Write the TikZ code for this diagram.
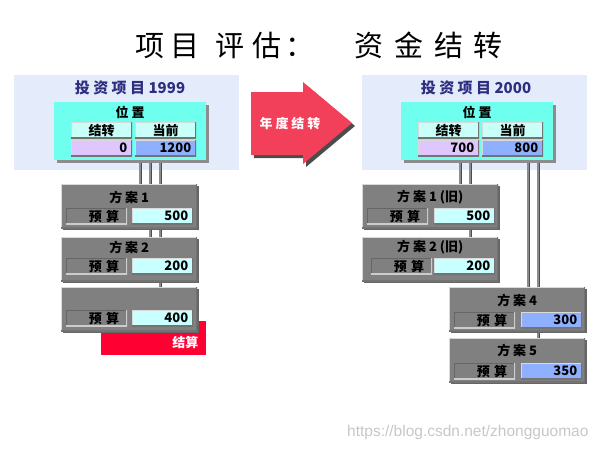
\documentclass[tikz,border=0pt]{standalone}
\usepackage{fontspec}
\setmainfont{Noto Sans CJK SC}
\newfontfamily\webfont{Liberation Sans}
\usepackage{tikz}
\usetikzlibrary{positioning,calc,shadows}
\definecolor{panelbg}{HTML}{E4EBFB}
\definecolor{navy}{HTML}{2E2E80}
\definecolor{poscyan}{HTML}{6EFFEE}
\definecolor{headcyan}{HTML}{C8FFF8}
\definecolor{lilac}{HTML}{E0C6FF}
\definecolor{cellblue}{HTML}{8FB0FF}
\definecolor{valcyan}{HTML}{C8FFFF}
\definecolor{boxgray}{HTML}{808080}
\definecolor{settlered}{HTML}{FF0033}
\definecolor{arrowred}{HTML}{F2405A}
\pgfdeclarelayer{panel}
\pgfdeclarelayer{pipes}
\pgfsetlayers{panel,pipes,main}
\tikzstyle{raised} = [path picture={
  \draw[line width=1.6pt, white!85!black] (path picture bounding box.south west) -- (path picture bounding box.north west) -- (path picture bounding box.north east);
  \draw[line width=1.6pt, black!55] (path picture bounding box.north east) -- (path picture bounding box.south east) -- (path picture bounding box.south west);}]
\tikzstyle{sunken} = [path picture={
  \draw[line width=1.6pt, black!60] (path picture bounding box.south west) -- (path picture bounding box.north west) -- (path picture bounding box.north east);
  \draw[line width=1.6pt, white!80!black] (path picture bounding box.north east) -- (path picture bounding box.south east) -- (path picture bounding box.south west);}]
\tikzstyle{panel} = [rectangle, fill=panelbg, inner sep=0pt, anchor=north west, minimum width=225pt, minimum height=95pt]
\tikzstyle{posbox} = [rectangle, fill=poscyan, inner sep=0pt, anchor=north west, minimum width=152pt, minimum height=58pt, drop shadow={shadow xshift=3pt, shadow yshift=-3pt, fill=black!45, opacity=1}]
\tikzstyle{plan} = [rectangle, fill=boxgray, inner sep=0pt, anchor=north west, minimum width=136pt, minimum height=44pt, raised, drop shadow={shadow xshift=1.5pt, shadow yshift=-1.5pt, fill=black!60, opacity=1}]
\tikzstyle{cell} = [rectangle, inner sep=0pt, inner xsep=5pt, anchor=north west, minimum width=61pt, minimum height=16pt, text width=51pt, align=right, raised]
\tikzstyle{headcell} = [cell, fill=headcyan, align=center]
\tikzstyle{labelcell} = [cell, fill=boxgray, sunken, inner xsep=8pt, text width=45pt]
\tikzstyle{pipe} = [draw=black!70, double=black!45, double distance=1.8pt, line width=0.8pt]

\begin{document}
\begin{tikzpicture}[x=1pt, y=-1pt, font=\bfseries\fontsize{13}{15}\selectfont]
  \useasboundingbox (0,0) rectangle (600,450);
  \node[font=\fontsize{29}{33}\selectfont] (title) at (319,45) {项\hspace{6pt}目\hspace{16pt}评\hspace{8pt}估\hspace{4pt}：\hspace{40pt}资\hspace{11pt}金\hspace{11pt}结\hspace{10pt}转};

  \begin{pgfonlayer}{panel}
    \node[panel] (bg1) at (14,75) {};
    \node[panel] (bg2) at (362,75) {};
  \end{pgfonlayer}

  % project 1999
  \node[font=\bfseries\fontsize{15}{17}\selectfont, text=navy] (name1) at (130,88) {投 资 项 目 1999};
  \node[posbox] (pos1) at (54,102) {};
  \node (where1) at ([shift={(0,10)}]pos1.north) {位 置};
  \node[headcell] (carryh1) at ([shift={(17,20)}]pos1.north west) {结转};
  \node[headcell] (nowh1) at ([shift={(81,20)}]pos1.north west) {当前};
  \node[cell, fill=lilac] (carryv1) at ([shift={(17,38)}]pos1.north west) {0};
  \node[cell, fill=cellblue] (nowv1) at ([shift={(81,38)}]pos1.north west) {1200};

  \node[plan] (p1) at (61,184) {};
  \node at ([shift={(0,13)}]p1.north) {方 案 1};
  \node[labelcell] (p1b) at ([shift={(5,24)}]p1.north west) {预 算};
  \node[cell, fill=valcyan] (p1v) at ([shift={(71,24)}]p1.north west) {500};

  \node[plan] (p2) at (61,237) {};
  \node at ([shift={(0,10)}]p2.north) {方 案 2};
  \node[labelcell] (p2b) at ([shift={(5,21)}]p2.north west) {预 算};
  \node[cell, fill=valcyan] (p2v) at ([shift={(71,21)}]p2.north west) {200};

  \node[rectangle, fill=settlered, inner sep=0pt, anchor=north west, minimum width=105pt, minimum height=34pt] (settle) at (101,321) {};
  \node[text=white] (settlet) at ([shift={(-21,4)}]settle.east) {结算};
  \node[plan] (p3) at (61,287) {};
  \node[labelcell] (p3b) at ([shift={(5,23)}]p3.north west) {预 算};
  \node[cell, fill=valcyan] (p3v) at ([shift={(71,23)}]p3.north west) {400};

  % carry-over arrow
  \fill[black!70, shift={(3,3)}] (251,92) -- (303,92) -- (303,82) -- (352,123) -- (303,164) -- (303,155) -- (251,155) -- cycle;
  \fill[arrowred] (251,92) -- (303,92) -- (303,82) -- (352,123) -- (303,164) -- (303,155) -- (251,155) -- cycle;
  \node[text=white] (carry) at (290,124) {年 度 结 转};

  % project 2000
  \node[font=\bfseries\fontsize{15}{17}\selectfont, text=navy] (name2) at (476,88) {投 资 项 目 2000};
  \node[posbox] (pos2) at (401,102) {};
  \node (where2) at ([shift={(0,10)}]pos2.north) {位 置};
  \node[headcell] (carryh2) at ([shift={(17,20)}]pos2.north west) {结转};
  \node[headcell] (nowh2) at ([shift={(81,20)}]pos2.north west) {当前};
  \node[cell, fill=lilac] (carryv2) at ([shift={(17,38)}]pos2.north west) {700};
  \node[cell, fill=cellblue] (nowv2) at ([shift={(81,38)}]pos2.north west) {800};

  \node[plan] (q1) at (362,184) {};
  \node at ([shift={(0,13)}]q1.north) {方 案 1 (旧)};
  \node[labelcell] (q1b) at ([shift={(5,24)}]q1.north west) {预 算};
  \node[cell, fill=valcyan] (q1v) at ([shift={(72,24)}]q1.north west) {500};

  \node[plan] (q2) at (362,237) {};
  \node at ([shift={(0,10)}]q2.north) {方 案 2 (旧)};
  \node[labelcell] (q2b) at ([shift={(9,21)}]q2.north west) {预 算};
  \node[cell, fill=valcyan] (q2v) at ([shift={(72,21)}]q2.north west) {200};

  \node[plan] (q4) at (449,287) {};
  \node at ([shift={(0,13)}]q4.north) {方 案 4};
  \node[labelcell] (q4b) at ([shift={(5,25)}]q4.north west) {预 算};
  \node[cell, fill=cellblue] (q4v) at ([shift={(72,25)}]q4.north west) {300};

  \node[plan] (q5) at (449,338) {};
  \node at ([shift={(0,12)}]q5.north) {方 案 5};
  \node[labelcell] (q5b) at ([shift={(5,25)}]q5.north west) {预 算};
  \node[cell, fill=cellblue] (q5v) at ([shift={(72,25)}]q5.north west) {350};

  \begin{pgfonlayer}{pipes}
    \draw[pipe] ([xshift=10pt]pos1.south) -- ([xshift=11pt]p1.north);
    \draw[pipe] ([xshift=20pt]pos1.south) -- ([xshift=21pt]p2.north);
    \draw[pipe] ([xshift=30pt]pos1.south) -- ([xshift=31pt]p3.north);
    \draw[pipe] ([xshift=-17pt]pos2.south) -- ([xshift=30pt]q1.north);
    \draw[pipe] ([xshift=-7pt]pos2.south) -- ([xshift=40pt]q2.north);
    \draw[pipe] ([xshift=51pt]pos2.south) -- ([xshift=11pt]q4.north);
    \draw[pipe] ([xshift=61pt]pos2.south) -- ([xshift=21pt]q5.north);
  \end{pgfonlayer}

  \node[font=\webfont\fontsize{15.5}{18}\selectfont, text=black!22, anchor=east] (site) at (592,432) {https://blog.csdn.net/zhongguomao};
\end{tikzpicture}
\end{document}
